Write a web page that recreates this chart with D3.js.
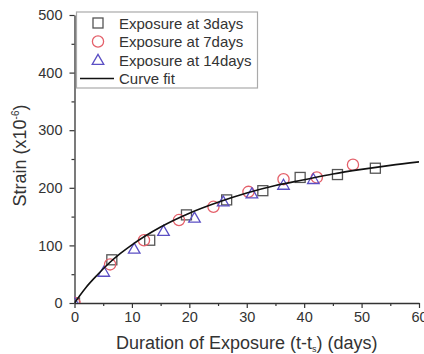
<!DOCTYPE html>
<html>
<head>
<meta charset="utf-8">
<script src="https://cdn.jsdelivr.net/npm/d3@7"></script>
<style>
  html, body { margin: 0; padding: 0; background: #fff; }
  svg { display: block; font-family: "Liberation Sans", Arial, sans-serif; }
</style>
</head>
<body>
<svg id="chart" width="424" height="354"></svg>
<script>
// Strain measured after exposure started at 3, 7 and 14 days of curing
const days3   = [0, 6.5, 13.1, 19.5, 26.5, 32.8, 39.3, 45.8, 52.4];
const strain3 = [0, 75, 109, 153, 179, 195, 218, 223, 234];

const days7   = [0, 6.2, 12.1, 18.2, 24.2, 30.3, 36.4, 42.2, 48.5];
const strain7 = [0, 67, 109, 144, 167, 193, 215, 218, 240];

const days14   = [0, 5.1, 10.4, 15.5, 20.9, 25.9, 30.9, 36.4, 41.6];
const strain14 = [0, 54, 94, 125, 148, 176, 190, 205, 215];

// Fitted strain curve, sampled along the exposure duration
const fitDays   = [0, 1, 2, 4, 6, 8, 10, 15, 20, 25, 30, 35, 40, 45, 50, 55, 60];
const fitStrain = [0, 14, 27, 49, 69, 86, 101, 132, 156, 175, 191, 204, 214, 224, 232, 239, 245];

const xTicks = [0, 10, 20, 30, 40, 50, 60];
const yTicks = [0, 100, 200, 300, 400, 500];
const legendLabels = ["Exposure at 3days", "Exposure at 7days", "Exposure at 14days", "Curve fit"];

const svg = d3.select("#chart");
const plotLeft = 74.5, plotRight = 419, plotTop = 15, plotBottom = 303;

const x = d3.scaleLinear().domain([0, 60]).range([plotLeft, plotRight]);
const y = d3.scaleLinear().domain([0, 500]).range([plotBottom, plotTop]);

const axisColor = "#333";
const textColor = "#333";

svg.append("defs").append("clipPath").attr("id", "plotClip")
  .append("rect").attr("x", plotLeft).attr("y", plotTop)
  .attr("width", plotRight - plotLeft).attr("height", plotBottom - plotTop);

// Minor ticks
const gx = svg.append("g").attr("transform", `translate(0,${plotBottom})`)
  .call(d3.axisBottom(x).tickValues(d3.range(5, 60, 10)).tickSize(3).tickFormat(""));
const gy = svg.append("g").attr("transform", `translate(${plotLeft},0)`)
  .call(d3.axisLeft(y).tickValues(d3.range(50, 500, 100)).tickSize(3).tickFormat(""));
[gx, gy].forEach(g => { g.select(".domain").remove(); g.selectAll("line").attr("stroke", axisColor).attr("stroke-width", 1.2); });

// Major axes
const ax = svg.append("g").attr("transform", `translate(0,${plotBottom})`)
  .call(d3.axisBottom(x).tickValues(xTicks).tickSize(5).tickSizeOuter(0).tickPadding(4).tickFormat(d3.format("d")));
const ay = svg.append("g").attr("transform", `translate(${plotLeft},0)`)
  .call(d3.axisLeft(y).tickValues(yTicks).tickSize(5).tickSizeOuter(0).tickPadding(7).tickFormat(d3.format("d")));
[ax, ay].forEach(g => {
  g.select(".domain").attr("stroke", axisColor).attr("stroke-width", 1.3);
  g.selectAll("line").attr("stroke", axisColor).attr("stroke-width", 1.2);
  g.selectAll("text").attr("fill", textColor).style("font-size", "14.5px").style("font-family", "Liberation Sans, Arial, sans-serif");
});

// Axis titles
const xt = svg.append("text").attr("x", (plotLeft + plotRight) / 2).attr("y", 349)
  .attr("text-anchor", "middle").attr("fill", textColor).style("font-size", "18px");
xt.append("tspan").text("Duration of Exposure (t-t");
xt.append("tspan").attr("dy", 3).style("font-size", "9px").text("s");
xt.append("tspan").attr("dy", -3).text(") (days)");

const yt = svg.append("text").attr("transform", `translate(26,155.5) rotate(-90)`)
  .attr("text-anchor", "middle").attr("fill", textColor).style("font-size", "18px");
yt.append("tspan").text("Strain (x10");
yt.append("tspan").attr("dy", -7).style("font-size", "10px").text("-6");
yt.append("tspan").attr("dy", 7).text(")");

// Marker shapes
const colors = { sq: "#555", ci: "#e4606a", tr: "#5b4fc4" };
function square(g, cx, cy) {
  g.append("rect").attr("x", cx - 5).attr("y", cy - 5).attr("width", 10).attr("height", 10)
    .attr("fill", "none").attr("stroke", colors.sq).attr("stroke-width", 1.3);
}
function circle(g, cx, cy) {
  g.append("circle").attr("cx", cx).attr("cy", cy).attr("r", 5.6)
    .attr("fill", "none").attr("stroke", colors.ci).attr("stroke-width", 1.3);
}
const triPath = d3.symbol().type(d3.symbolTriangle).size(58);
function triangle(g, cx, cy) {
  g.append("path").attr("d", triPath()).attr("transform", `translate(${cx},${cy + 1})`)
    .attr("fill", "none").attr("stroke", colors.tr).attr("stroke-width", 1.3);
}

const plot = svg.append("g").attr("clip-path", "url(#plotClip)");
days3.forEach((d, i) => square(plot, x(d), y(strain3[i])));
days7.forEach((d, i) => circle(plot, x(d), y(strain7[i])));
days14.forEach((d, i) => triangle(plot, x(d), y(strain14[i])));

const line = d3.line().x(d => x(d[0])).y(d => y(d[1])).curve(d3.curveMonotoneX);
plot.append("path").datum(fitDays.map((d, i) => [d, fitStrain[i]]))
  .attr("d", line).attr("fill", "none").attr("stroke", "#111").attr("stroke-width", 1.6);

// Legend
const lg = svg.append("g");
lg.append("rect").attr("x", 76.5).attr("y", 12).attr("width", 181).attr("height", 76)
  .attr("fill", "#fff").attr("stroke", "#aaa").attr("stroke-width", 1.2);
const rowY = [23, 41.5, 60, 78.5];
square(lg, 98, rowY[0]);
circle(lg, 98, rowY[1]);
triangle(lg, 98, rowY[2]);
lg.append("line").attr("x1", 80).attr("x2", 114).attr("y1", rowY[3]).attr("y2", rowY[3])
  .attr("stroke", "#111").attr("stroke-width", 1.6);
legendLabels.forEach((t, i) => {
  lg.append("text").attr("x", 119).attr("y", rowY[i] + 5.5).attr("fill", textColor)
    .style("font-size", "15px").text(t);
});
</script>
</body>
</html>
